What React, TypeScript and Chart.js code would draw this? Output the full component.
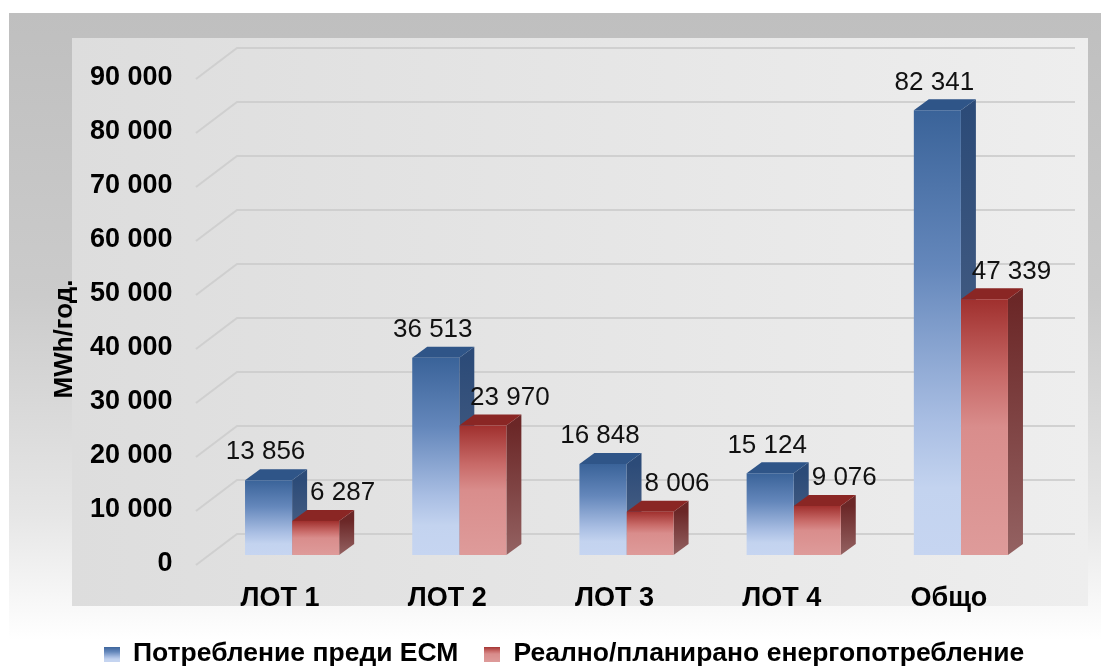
import React, { useEffect, useRef } from 'react';
import { Chart, registerables } from 'chart.js';

Chart.register(...registerables);

// ---- data ----
const categories = ['ЛОТ 1', 'ЛОТ 2', 'ЛОТ 3', 'ЛОТ 4', 'Общо'];
const seriesNames = ['Потребление преди ЕСМ', 'Реално/планирано енергопотребление'];
const beforeValues = [13856, 36513, 16848, 15124, 82341];
const afterValues = [6287, 23970, 8006, 9076, 47339];
const yTickValues = [0, 10000, 20000, 30000, 40000, 50000, 60000, 70000, 80000, 90000];
const yAxisTitle = 'MWh/год.';

// ---- style ----
const FONT = "'Liberation Sans', Arial, sans-serif";
const DEPTH_X = 15;
const DEPTH_Y = -11;
const frontStops = [
  [[0, '#3a6399'], [0.35, '#6487bb'], [0.7, '#a9bee3'], [0.85, '#c3d3ef'], [1, '#c6d5f1']],
  [[0, '#a0302e'], [0.3, '#c86a68'], [0.5, '#d98d8c'], [1, '#de9b9a']],
];
const sideStops = [
  [[0, '#2c4b78'], [1, '#56698a']],
  [[0, '#6b2727'], [1, '#946262']],
];
const topColors = ['#2f5588', '#8a2624'];
const labelOffsetX = [-3, 27];

const fmt = (v: number) => String(Math.round(v)).replace(/\B(?=(\d{3})+(?!\d))/g, ' ');

function grad(ctx: CanvasRenderingContext2D, y0: number, y1: number, stops: any[]) {
  const g = ctx.createLinearGradient(0, y0, 0, y1);
  stops.forEach(([o, c]) => g.addColorStop(o, c));
  return g;
}

function makeMarker(stops: any[]) {
  const c = document.createElement('canvas');
  c.width = 16;
  c.height = 15;
  const cx = c.getContext('2d')!;
  cx.fillStyle = grad(cx, 0, 15, stops);
  cx.fillRect(0, 0, 16, 15);
  return c;
}

const backgroundPlugin = {
  id: 'bgPanel',
  beforeDraw(chart: any) {
    const { ctx, width, height } = chart;
    ctx.save();
    ctx.fillStyle = '#ffffff';
    ctx.fillRect(0, 0, width, height);
    const og = ctx.createLinearGradient(0, 13, 0, 640);
    og.addColorStop(0, '#bfbfbf');
    og.addColorStop(0.45, '#cbcbcb');
    og.addColorStop(0.8, '#e6e6e6');
    og.addColorStop(1, '#ffffff');
    ctx.fillStyle = og;
    ctx.fillRect(9, 13, width - 9, height - 13);
    const ig = ctx.createLinearGradient(72, 0, 1088, 0);
    ig.addColorStop(0, '#dddddd');
    ig.addColorStop(1, '#eeeeee');
    ctx.fillStyle = ig;
    ctx.fillRect(72, 38, 1016, 568);
    ctx.restore();
  },
};

const depthPlugin = {
  id: 'depth3d',
  beforeDatasetsDraw(chart: any) {
    const { ctx } = chart;
    const ys = chart.scales.y;
    ctx.save();
    // back wall grid lines
    yTickValues.forEach((v) => {
      const yb = ys.getPixelForValue(v) - 21;
      ctx.strokeStyle = 'rgba(205,205,205,0.9)';
      ctx.lineWidth = 2;
      ctx.beginPath();
      ctx.moveTo(196, yb + 31);
      ctx.lineTo(237, yb);
      ctx.lineTo(1075, yb);
      ctx.stroke();
    });
    // side and top faces
    chart.data.datasets.forEach((_: any, d: number) => {
      const meta = chart.getDatasetMeta(d);
      meta.data.forEach((el: any) => {
        const { x, y, base, width } = el.getProps(['x', 'y', 'base', 'width'], true);
        const left = x - width / 2;
        const right = x + width / 2;
        ctx.fillStyle = grad(ctx, y, base, sideStops[d]);
        ctx.beginPath();
        ctx.moveTo(right, y);
        ctx.lineTo(right + DEPTH_X, y + DEPTH_Y);
        ctx.lineTo(right + DEPTH_X, base + DEPTH_Y);
        ctx.lineTo(right, base);
        ctx.closePath();
        ctx.fill();
        ctx.fillStyle = topColors[d];
        ctx.beginPath();
        ctx.moveTo(left, y);
        ctx.lineTo(left + DEPTH_X, y + DEPTH_Y);
        ctx.lineTo(right + DEPTH_X, y + DEPTH_Y);
        ctx.lineTo(right, y);
        ctx.closePath();
        ctx.fill();
      });
    });
    ctx.restore();
  },
};

const labelsPlugin = {
  id: 'valueLabels',
  afterDatasetsDraw(chart: any) {
    const { ctx } = chart;
    ctx.save();
    ctx.font = `26px ${FONT}`;
    ctx.fillStyle = '#111111';
    ctx.textAlign = 'center';
    ctx.textBaseline = 'middle';
    chart.data.datasets.forEach((ds: any, d: number) => {
      const meta = chart.getDatasetMeta(d);
      meta.data.forEach((el: any, i: number) => {
        ctx.fillText(fmt(ds.data[i]), el.x + labelOffsetX[d], el.y - 28);
      });
    });
    ctx.restore();
  },
};

const axisTitlePlugin = {
  id: 'yTitle',
  afterDraw(chart: any) {
    const { ctx } = chart;
    ctx.save();
    ctx.translate(65, 339);
    ctx.rotate(-Math.PI / 2);
    ctx.font = `bold 26px ${FONT}`;
    ctx.fillStyle = '#000000';
    ctx.textAlign = 'center';
    ctx.textBaseline = 'middle';
    ctx.fillText(yAxisTitle, 0, 0);
    ctx.restore();
  },
};

export default function App() {
  const ref = useRef<HTMLCanvasElement | null>(null);

  useEffect(() => {
    document.body.style.margin = '0';
    const canvas = ref.current;
    if (!canvas) return;
    const markers = [makeMarker(frontStops[0]), makeMarker(frontStops[1])];
    const frontColor = (d: number) => (c: any) => {
      const ys = c.chart.scales && c.chart.scales.y;
      if (!ys || c.raw == null) return frontStops[d][0][1];
      return grad(c.chart.ctx, ys.getPixelForValue(c.raw), ys.getPixelForValue(0), frontStops[d]);
    };
    const chart = new Chart(canvas, {
      type: 'bar',
      data: {
        labels: categories,
        datasets: [
          { label: seriesNames[0], data: beforeValues, backgroundColor: frontColor(0), borderWidth: 0 },
          { label: seriesNames[1], data: afterValues, backgroundColor: frontColor(1), borderWidth: 0 },
        ],
      },
      options: {
        responsive: false,
        animation: false,
        devicePixelRatio: 1,
        datasets: { bar: { categoryPercentage: 0.563, barPercentage: 1.0 } },
        layout: { padding: { left: 60, right: 33, top: 69, bottom: -9.25 } },
        scales: {
          x: {
            grid: { display: false },
            border: { display: false },
            ticks: {
              color: '#000000',
              font: { family: FONT, size: 27, weight: 'bold' },
              padding: 19,
              labelOffset: -12,
            },
            afterFit: (s: any) => { s.height = 60; },
          },
          y: {
            min: 0,
            max: 90000,
            grid: { display: false },
            border: { display: false },
            ticks: {
              stepSize: 10000,
              color: '#000000',
              font: { family: FONT, size: 27, weight: 'bold' },
              padding: 28,
              labelOffset: 8.5,
              callback: (v: any) => fmt(Number(v)),
            },
            afterFit: (s: any) => { s.width = 148.5; },
          },
          y2: {
            position: 'right',
            display: true,
            grid: { display: false },
            border: { display: false },
            ticks: { display: false },
            afterFit: (s: any) => { s.width = 23.5; },
          },
        },
        plugins: {
          legend: {
            display: true,
            position: 'bottom',
            labels: {
              usePointStyle: true,
              boxWidth: 16,
              boxHeight: 15,
              padding: 25.75,
              color: '#000000',
              font: { family: FONT, size: 26.5, weight: 'bold' },
              generateLabels: () =>
                seriesNames.map((name, i) => ({
                  text: name,
                  fillStyle: frontStops[i][2][1],
                  strokeStyle: 'transparent',
                  lineWidth: 0,
                  pointStyle: markers[i],
                  datasetIndex: i,
                  hidden: false,
                })),
            },
          },
          tooltip: { enabled: false },
        },
      },
      plugins: [backgroundPlugin, depthPlugin, labelsPlugin, axisTitlePlugin],
    } as any);
    return () => chart.destroy();
  }, []);

  return (
    <div style={{ width: 1101, height: 668 }}>
      <canvas ref={ref} width={1101} height={668} style={{ display: 'block' }} />
    </div>
  );
}
